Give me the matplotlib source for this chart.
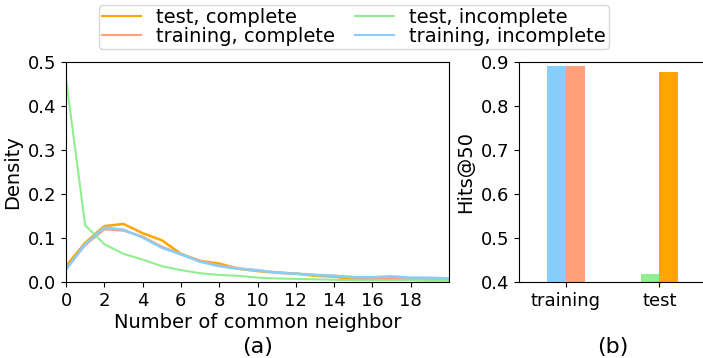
import matplotlib.pyplot as plt
import numpy as np

# data
n_common = np.arange(0, 21)
test_complete = [0.036, 0.089, 0.127, 0.132, 0.111, 0.095, 0.064, 0.048, 0.042, 0.030, 0.025,
                 0.021, 0.019, 0.014, 0.012, 0.006, 0.007, 0.006, 0.005, 0.004, 0.005]
train_complete = [0.030, 0.084, 0.120, 0.117, 0.103, 0.080, 0.063, 0.048, 0.038, 0.031, 0.026,
                  0.022, 0.019, 0.016, 0.014, 0.011, 0.010, 0.010, 0.008, 0.007, 0.007]
test_incomplete = [0.462, 0.129, 0.086, 0.064, 0.051, 0.036, 0.027, 0.020, 0.016, 0.014, 0.010,
                   0.008, 0.007, 0.006, 0.005, 0.004, 0.004, 0.004, 0.004, 0.003, 0.003]
train_incomplete = [0.028, 0.086, 0.124, 0.119, 0.101, 0.078, 0.063, 0.046, 0.036, 0.030, 0.027,
                    0.021, 0.019, 0.016, 0.014, 0.011, 0.011, 0.013, 0.010, 0.010, 0.008]

splits = ['training', 'test']
hits_incomplete = [0.890, 0.418]
hits_complete = [0.892, 0.877]

c_test_c = 'orange'
c_train_c = 'lightsalmon'
c_test_i = 'lightgreen'
c_train_i = 'lightskyblue'

plt.rcParams['font.size'] = 13
plt.rcParams['axes.labelsize'] = 14
fig = plt.figure(figsize=(7.03, 3.58), dpi=100)

# (a) density of common neighbours
ax1 = fig.add_axes([66 / 703, 1 - 282 / 358, 383 / 703, 220 / 358])
ax1.plot(n_common, test_complete, color=c_test_c, lw=1.8, label='test, complete')
ax1.plot(n_common, train_complete, color=c_train_c, lw=1.8, label='training, complete')
ax1.plot(n_common, test_incomplete, color=c_test_i, lw=1.5, label='test, incomplete')
ax1.plot(n_common, train_incomplete, color=c_train_i, lw=1.8, label='training, incomplete')
ax1.set_xlim(0, 20)
ax1.set_ylim(0, 0.5)
ax1.set_xticks(np.arange(0, 20, 2))
ax1.set_yticks(np.arange(0, 0.51, 0.1))
ax1.set_xlabel('Number of common neighbor', labelpad=2)
ax1.set_ylabel('Density')

# (b) hits@50
ax2 = fig.add_axes([519 / 703, 1 - 282 / 358, 192 / 703, 220 / 358])
x = np.arange(len(splits))
w = 0.2
ax2.bar([x[0] - w / 2], [hits_incomplete[0]], w, color=c_train_i)
ax2.bar([x[0] + w / 2], [hits_complete[0]], w, color=c_train_c)
ax2.bar([x[1] - w / 2], [hits_incomplete[1]], w, color=c_test_i)
ax2.bar([x[1] + w / 2], [hits_complete[1]], w, color=c_test_c)
ax2.set_xlim(-0.5, 1.55)
ax2.set_ylim(0.4, 0.9)
ax2.set_xticks(x)
ax2.set_xticklabels(splits)
ax2.set_yticks(np.arange(0.4, 0.91, 0.1))
ax2.set_ylabel('Hits@50')

fig.text(258 / 703, 1 - 347 / 358, '(a)', ha='center', va='center', fontsize=16)
fig.text(613 / 703, 1 - 347 / 358, '(b)', ha='center', va='center', fontsize=16)

h, l = ax1.get_legend_handles_labels()
leg = fig.legend(h, l, ncol=2, loc='upper center', bbox_to_anchor=(354 / 703, 1 - 5 / 358),
                 fontsize=14, handlelength=2.0, labelspacing=0.0, columnspacing=1.0,
                 borderpad=0.15, handletextpad=0.8, borderaxespad=0)
for line in leg.get_lines():
    line.set_linewidth(1.5)

fig.savefig('out.png', dpi=100)
plt.close()
